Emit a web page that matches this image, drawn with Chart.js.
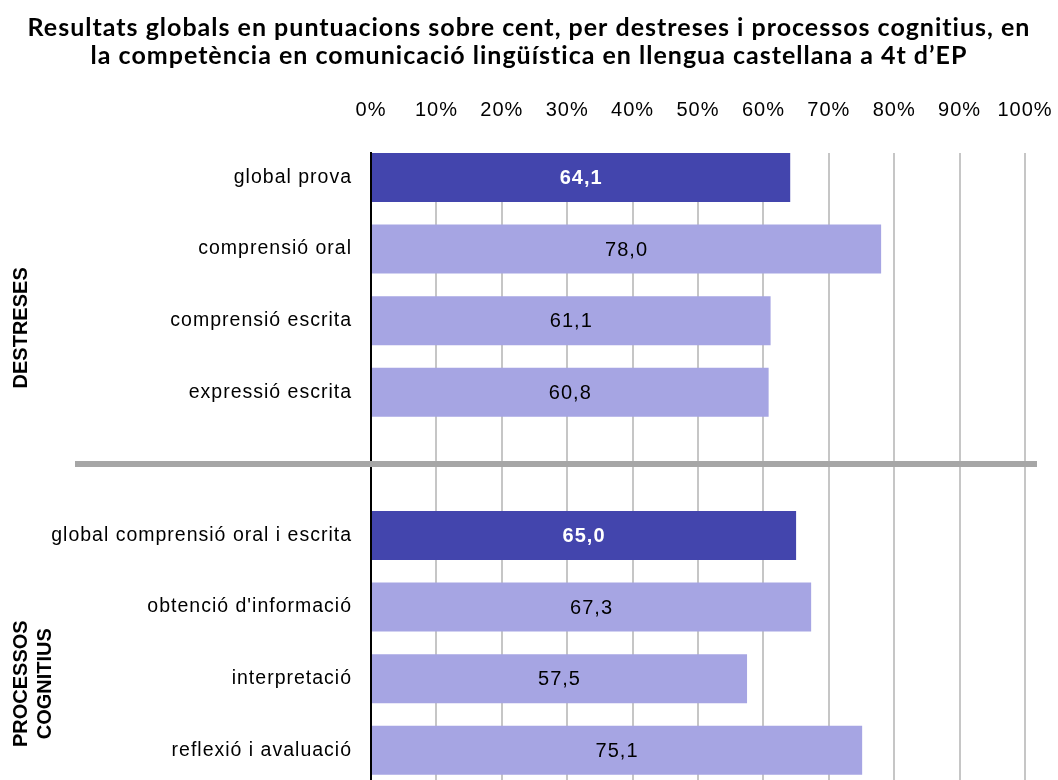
<!DOCTYPE html>
<html>
<head>
<meta charset="utf-8">
<script src="https://cdn.jsdelivr.net/npm/chart.js@4"></script>
<style>
  body { margin: 0; background: #fff; }
</style>
</head>
<body>
<canvas id="chart" width="1058" height="780"></canvas>
<script>
const categories = [
    'global prova',
    'comprensió oral',
    'comprensió escrita',
    'expressió escrita',
    '',
    'global comprensió oral i escrita',
    "obtenció d'informació",
    'interpretació',
    'reflexió i avaluació'
];
const scores = [64.1, 78.0, 61.1, 60.8, null, 65.0, 67.3, 57.5, 75.1];
const xTicks = [0, 10, 20, 30, 40, 50, 60, 70, 80, 90, 100];
const groupNames = [['DESTRESES'], ['PROCESSOS', 'COGNITIUS']];

const darkBlue = '#4345ad';
const lightBlue = '#a6a5e3';
const isGlobal = categories.map(c => c.startsWith('global'));

// the original text is set a little loose
const spacing = {
    id: 'spacing',
    beforeDraw(chart) { chart.ctx.letterSpacing = '1px'; },
    afterDraw(chart) { chart.ctx.letterSpacing = '0px'; }
};

const valueLabels = {
    id: 'valueLabels',
    afterDatasetsDraw(chart) {
        const ctx = chart.ctx;
        const meta = chart.getDatasetMeta(0);
        ctx.save();
        ctx.textAlign = 'center';
        ctx.textBaseline = 'middle';
        meta.data.forEach((bar, i) => {
            if (scores[i] === null) return;
            ctx.font = (isGlobal[i] ? 'bold ' : '') + '20px "Liberation Sans", Arial, sans-serif';
            ctx.fillStyle = isGlobal[i] ? '#ffffff' : '#000000';
            ctx.fillText(scores[i].toFixed(1).replace('.', ','), (bar.x + bar.base) / 2, bar.y + 1);
        });
        ctx.restore();
    }
};

const groupDecor = {
    id: 'groupDecor',
    afterDraw(chart) {
        const ctx = chart.ctx;
        const y = chart.scales.y;
        const area = chart.chartArea;
        ctx.save();
        // separator between the two blocks
        ctx.strokeStyle = '#a6a6a6';
        ctx.lineWidth = 6;
        ctx.beginPath();
        const sy = y.getPixelForValue(4);
        ctx.moveTo(75, sy);
        ctx.lineTo(area.right + 12, sy);
        ctx.stroke();

        // rotated group names
        ctx.fillStyle = '#000';
        ctx.font = 'bold 20px "Liberation Sans", Arial, sans-serif';
        ctx.textAlign = 'center';
        ctx.textBaseline = 'middle';
        const centers = [2.1, 7.07];
        groupNames.forEach((lines, g) => {
            ctx.save();
            ctx.translate(21, y.getPixelForValue(centers[g]));
            ctx.rotate(-Math.PI / 2);
            lines.forEach((t, k) => ctx.fillText(t, 0, k * 24));
            ctx.restore();
        });
        ctx.restore();
    }
};

function setPadding(s, right) {
    s.paddingLeft = 0;
    s.paddingRight = right;
    s.paddingTop = 0;
    s.paddingBottom = 0;
}

new Chart(document.getElementById('chart'), {
    type: 'bar',
    data: {
        datasets: [{
            data: scores.map((v, i) => ({ x: v, y: i })),
            backgroundColor: isGlobal.map(g => g ? darkBlue : lightBlue),
            borderWidth: 0,
            barPercentage: 0.684,
            categoryPercentage: 1
        }]
    },
    options: {
        indexAxis: 'y',
        responsive: false,
        animation: false,
        layout: { padding: 0 },
        plugins: {
            legend: { display: false },
            tooltip: { enabled: false },
            title: {
                display: true,
                text: [
                    'Resultats globals en puntuacions sobre cent, per destreses i processos cognitius, en',
                    'la competència en comunicació lingüística en llengua castellana a 4t d\u2019EP'
                ],
                color: '#000',
                font: { family: 'Lato', size: 25, weight: 'bold', lineHeight: 1.12 },
                padding: { top: 14, bottom: 7 }
            }
        },
        scales: {
            x: {
                position: 'top',
                min: 0,
                max: 100,
                afterBuildTicks: s => { s.ticks = xTicks.map(v => ({ value: v })); },
                afterFit: s => { s.height = 153 - (14 + 2 * 25 * 1.12 + 7); setPadding(s, 33); },
                ticks: {
                    padding: 31,
                    color: '#000',
                    font: { family: '"Liberation Sans", Arial, sans-serif', size: 20 },
                    callback: v => v + '%'
                },
                grid: { color: '#c6c6c6', lineWidth: 2, drawTicks: false },
                border: { display: false }
            },
            y: {
                type: 'linear',
                reverse: true,
                offset: false,
                min: -0.342,
                max: 8.415,
                afterBuildTicks: s => { s.ticks = categories.map((_, i) => ({ value: i })); },
                afterFit: s => { s.width = 371; setPadding(s, 0); },
                ticks: {
                    padding: 19,
                    color: '#000',
                    font: { family: '"Liberation Sans", Arial, sans-serif', size: 19.5 },
                    callback: v => categories[v]
                },
                grid: { display: false, drawTicks: false },
                border: { display: true, color: '#000', width: 2 }
            }
        }
    },
    plugins: [spacing, valueLabels, groupDecor]
});
</script>
</body>
</html>
